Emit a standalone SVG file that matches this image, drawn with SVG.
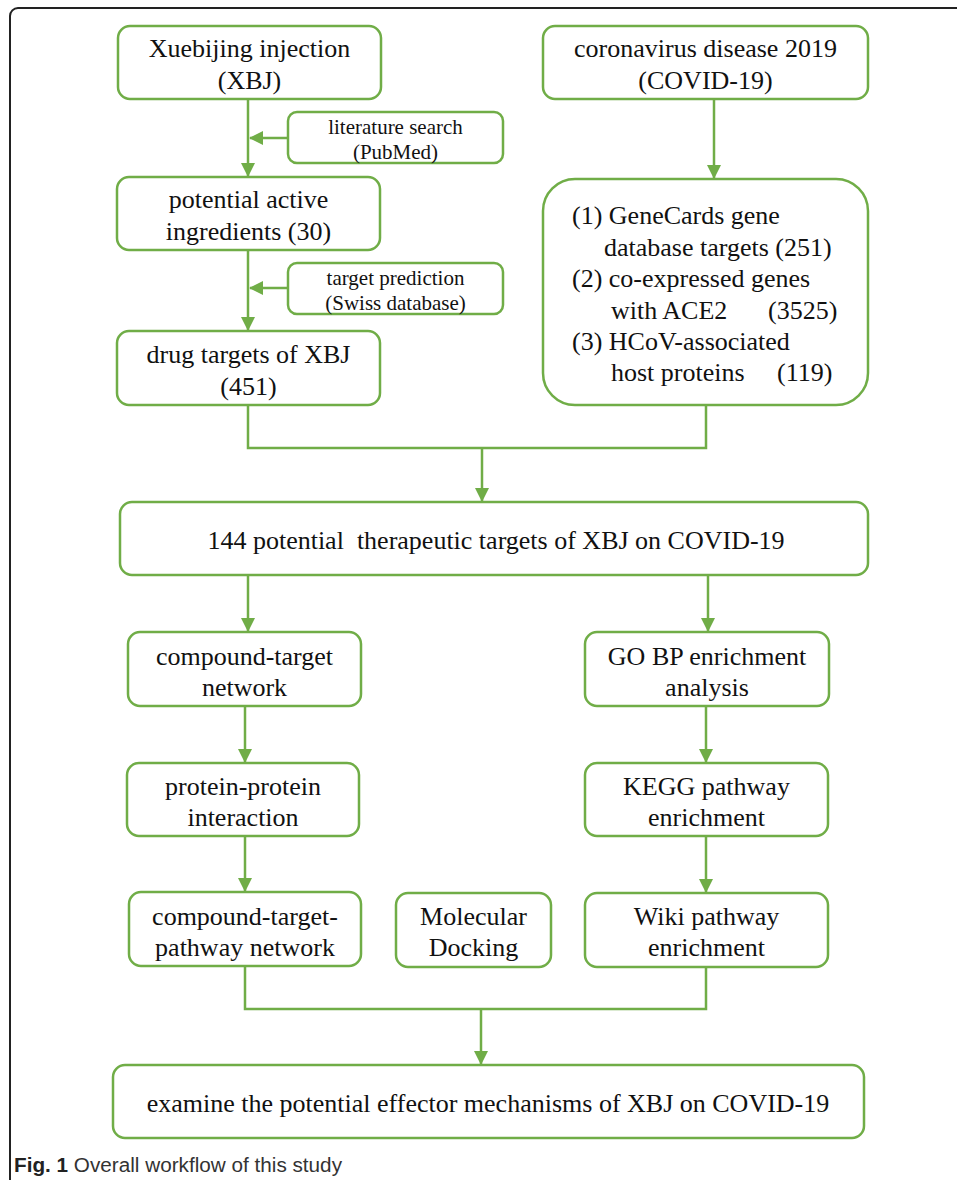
<svg xmlns="http://www.w3.org/2000/svg" width="957" height="1180" viewBox="0 0 957 1180">
<defs>
<style>
.box{fill:#fff;stroke:#70ad47;stroke-width:2.5}
.t{font-family:"Liberation Serif","Times New Roman",serif;font-size:26px;fill:#111;text-anchor:middle}
.s{font-family:"Liberation Serif","Times New Roman",serif;font-size:21px;fill:#111;text-anchor:middle}
.l{font-family:"Liberation Serif","Times New Roman",serif;font-size:26px;fill:#111}
.c{fill:none;stroke:#70ad47;stroke-width:2.5}
.cap{font-family:"Liberation Sans",Arial,sans-serif;font-size:20px;fill:#333}
</style>
<marker id="ah" markerUnits="userSpaceOnUse" markerWidth="14" markerHeight="14" refX="13" refY="7" orient="auto">
<path d="M0,0 L14,7 L0,14 Z" fill="#70ad47"/>
</marker>
</defs>
<rect width="957" height="1180" fill="#fff"/>
<rect x="10" y="8" width="1000" height="1300" rx="8" fill="none" stroke="#222" stroke-width="2"/>

<g id="connectors">
<path class="c" d="M248,99 V176" marker-end="url(#ah)"/>
<path class="c" d="M288,138 H250" marker-end="url(#ah)"/>
<path class="c" d="M248,250 V330" marker-end="url(#ah)"/>
<path class="c" d="M288,288 H250" marker-end="url(#ah)"/>
<path class="c" d="M714,99 V178" marker-end="url(#ah)"/>
<path class="c" d="M248,405 V448 H706 V405"/>
<path class="c" d="M482,448 V501" marker-end="url(#ah)"/>
<path class="c" d="M248,575 V631" marker-end="url(#ah)"/>
<path class="c" d="M708,575 V631" marker-end="url(#ah)"/>
<path class="c" d="M245,706 V762" marker-end="url(#ah)"/>
<path class="c" d="M706,706 V762" marker-end="url(#ah)"/>
<path class="c" d="M245,836 V891" marker-end="url(#ah)"/>
<path class="c" d="M706,836 V892" marker-end="url(#ah)"/>
<path class="c" d="M245,966 V1009 H706 V967"/>
<path class="c" d="M481,1009 V1064" marker-end="url(#ah)"/>
</g>

<g id="n_xbj">
<rect class="box" x="118" y="26" width="263" height="73" rx="12"/>
<text class="t" x="249.5" y="57">Xuebijing injection</text>
<text class="t" x="249.5" y="89">(XBJ)</text>
</g>
<g id="n_covid">
<rect class="box" x="543" y="26" width="325" height="73" rx="12"/>
<text class="t" x="705.5" y="57">coronavirus disease 2019</text>
<text class="t" x="705.5" y="89">(COVID-19)</text>
</g>
<g id="n_lit">
<rect class="box" x="288" y="112" width="215" height="51" rx="9"/>
<text class="s" x="395.5" y="134">literature search</text>
<text class="s" x="395.5" y="159">(PubMed)</text>
</g>
<g id="n_ingr">
<rect class="box" x="117" y="177" width="263" height="73" rx="12"/>
<text class="t" x="248.5" y="208">potential active</text>
<text class="t" x="248.5" y="240">ingredients (30)</text>
</g>
<g id="n_pred">
<rect class="box" x="288" y="263" width="215" height="51" rx="9"/>
<text class="s" x="395.5" y="285">target prediction</text>
<text class="s" x="395.5" y="310">(Swiss database)</text>
</g>
<g id="n_drug">
<rect class="box" x="117" y="331" width="263" height="74" rx="12"/>
<text class="t" x="248.5" y="363">drug targets of XBJ</text>
<text class="t" x="248.5" y="395">(451)</text>
</g>
<g id="n_sources">
<rect class="box" x="543" y="179" width="325" height="226" rx="32"/>
<text class="l" x="572" y="224">(1) GeneCards gene</text>
<text class="l" x="604" y="256">database targets (251)</text>
<text class="l" x="572" y="287">(2) co-expressed genes</text>
<text class="l" y="319"><tspan x="611">with ACE2</tspan><tspan x="768">(3525)</tspan></text>
<text class="l" x="572" y="350">(3) HCoV-associated</text>
<text class="l" y="381"><tspan x="611">host proteins</tspan><tspan x="777">(119)</tspan></text>
</g>
<g id="n_144">
<rect class="box" x="120" y="502" width="748" height="73" rx="12"/>
<text class="t" x="496" y="549" xml:space="preserve">144 potential  therapeutic targets of XBJ on COVID-19</text>
</g>
<g id="n_ct">
<rect class="box" x="128" y="632" width="233" height="74" rx="12"/>
<text class="t" x="244.5" y="665">compound-target</text>
<text class="t" x="244.5" y="696">network</text>
</g>
<g id="n_go">
<rect class="box" x="585" y="632" width="244" height="74" rx="12"/>
<text class="t" x="707" y="665">GO BP enrichment</text>
<text class="t" x="707" y="696">analysis</text>
</g>
<g id="n_ppi">
<rect class="box" x="127" y="763" width="232" height="73" rx="12"/>
<text class="t" x="243" y="795">protein-protein</text>
<text class="t" x="243" y="826">interaction</text>
</g>
<g id="n_kegg">
<rect class="box" x="585" y="763" width="243" height="73" rx="12"/>
<text class="t" x="706.5" y="795">KEGG pathway</text>
<text class="t" x="706.5" y="826">enrichment</text>
</g>
<g id="n_ctp">
<rect class="box" x="129" y="892" width="232" height="74" rx="12"/>
<text class="t" x="245" y="925">compound-target-</text>
<text class="t" x="245" y="956">pathway network</text>
</g>
<g id="n_dock">
<rect class="box" x="396" y="893" width="155" height="74" rx="12"/>
<text class="t" x="473.5" y="925">Molecular</text>
<text class="t" x="473.5" y="956">Docking</text>
</g>
<g id="n_wiki">
<rect class="box" x="585" y="893" width="243" height="74" rx="12"/>
<text class="t" x="706.5" y="925">Wiki pathway</text>
<text class="t" x="706.5" y="956">enrichment</text>
</g>
<g id="n_exam">
<rect class="box" x="113" y="1065" width="751" height="73" rx="12"/>
<text class="t" x="488" y="1112">examine the potential effector mechanisms of XBJ on COVID-19</text>
</g>
<text class="cap" x="14" y="1172" textLength="328" lengthAdjust="spacingAndGlyphs"><tspan font-weight="bold" fill="#222">Fig. 1</tspan> Overall workflow of this study</text>
</svg>
